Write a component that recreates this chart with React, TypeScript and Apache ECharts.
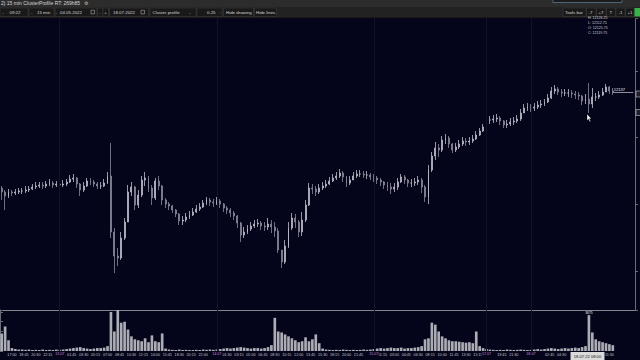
import React, { useEffect, useRef } from "react";
import * as echarts from "echarts";

// 30-minute OHLC bars, 12.07 14:15 -> 18.07 11:45 (CT)
const opens = [
  11849, 11837, 11825, 11837, 11834, 11837, 11840, 11840, 11843, 11846,
  11852, 11855, 11858, 11855, 11861, 11864, 11858, 11861, 11858, 11861,
  11867, 11876, 11879, 11861, 11843, 11855, 11870, 11867, 11861, 11855,
  11855, 11864, 11885, 11717, 11645, 11639, 11699, 11747, 11837, 11852,
  11798, 11828, 11873, 11879, 11849, 11819, 11870, 11855, 11813, 11801,
  11795, 11783, 11771, 11750, 11753, 11762, 11768, 11777, 11786, 11792,
  11804, 11813, 11807, 11804, 11810, 11801, 11789, 11783, 11774, 11765,
  11744, 11708, 11717, 11726, 11735, 11741, 11744, 11735, 11732, 11741,
  11732, 11720, 11663, 11627, 11675, 11729, 11759, 11747, 11717, 11753,
  11798, 11849, 11846, 11837, 11849, 11855, 11861, 11870, 11879, 11885,
  11894, 11882, 11864, 11873, 11885, 11891, 11891, 11888, 11888, 11882,
  11879, 11873, 11867, 11858, 11852, 11846, 11852, 11867, 11882, 11873,
  11864, 11864, 11867, 11873, 11852, 11822, 11903, 11945, 11969, 11963,
  11993, 11999, 11981, 11963, 11972, 11981, 11990, 11987, 11990, 11996,
  12008, 12020, 12032, 12053, 12053, 12056, 12059, 12050, 12038, 12041,
  12047, 12050, 12056, 12074, 12089, 12092, 12089, 12092, 12098, 12101,
  12107, 12119, 12140, 12146, 12137, 12134, 12134, 12134, 12131, 12128,
  12125, 12110, 12116, 12101, 12122, 12122, 12128, 12137, 12152, 12140,
];
const closes = [
  11837, 11825, 11837, 11834, 11837, 11840, 11840, 11843, 11846, 11852,
  11855, 11858, 11855, 11861, 11864, 11858, 11861, 11858, 11861, 11867,
  11876, 11879, 11861, 11843, 11855, 11870, 11867, 11861, 11855, 11855,
  11864, 11885, 11717, 11645, 11639, 11699, 11747, 11837, 11852, 11798,
  11828, 11873, 11879, 11849, 11819, 11870, 11855, 11813, 11801, 11795,
  11783, 11771, 11750, 11753, 11762, 11768, 11777, 11786, 11792, 11804,
  11813, 11807, 11804, 11810, 11801, 11789, 11783, 11774, 11765, 11744,
  11708, 11717, 11726, 11735, 11741, 11744, 11735, 11732, 11741, 11732,
  11720, 11663, 11627, 11675, 11729, 11759, 11747, 11717, 11753, 11798,
  11849, 11846, 11837, 11849, 11855, 11861, 11870, 11879, 11885, 11894,
  11882, 11864, 11873, 11885, 11891, 11891, 11888, 11888, 11882, 11879,
  11873, 11867, 11858, 11852, 11846, 11852, 11867, 11882, 11873, 11864,
  11864, 11867, 11873, 11852, 11822, 11903, 11945, 11969, 11963, 11993,
  11999, 11981, 11963, 11972, 11981, 11990, 11987, 11990, 11996, 12008,
  12020, 12032, 12053, 12053, 12056, 12059, 12050, 12038, 12041, 12047,
  12050, 12056, 12074, 12089, 12092, 12089, 12092, 12098, 12101, 12107,
  12119, 12140, 12146, 12137, 12134, 12134, 12134, 12131, 12128, 12125,
  12110, 12116, 12101, 12122, 12122, 12128, 12137, 12152, 12140, 12137,
];
const lows = [
  11813, 11783, 11819, 11825, 11828, 11831, 11831, 11834, 11837, 11843,
  11846, 11849, 11846, 11849, 11855, 11849, 11852, 11849, 11852, 11855,
  11864, 11867, 11849, 11825, 11837, 11852, 11858, 11852, 11846, 11846,
  11852, 11861, 11699, 11594, 11615, 11633, 11693, 11747, 11825, 11783,
  11789, 11822, 11855, 11837, 11798, 11813, 11843, 11798, 11789, 11783,
  11774, 11762, 11738, 11738, 11747, 11756, 11765, 11774, 11780, 11789,
  11798, 11795, 11792, 11798, 11789, 11777, 11771, 11762, 11753, 11729,
  11687, 11699, 11711, 11720, 11729, 11732, 11723, 11720, 11723, 11714,
  11702, 11654, 11609, 11621, 11669, 11723, 11729, 11702, 11705, 11747,
  11795, 11831, 11825, 11831, 11843, 11849, 11858, 11867, 11873, 11879,
  11867, 11852, 11858, 11873, 11879, 11882, 11879, 11876, 11873, 11867,
  11861, 11855, 11846, 11840, 11831, 11837, 11843, 11864, 11861, 11852,
  11852, 11855, 11858, 11834, 11807, 11801, 11897, 11933, 11942, 11957,
  11981, 11969, 11954, 11957, 11966, 11975, 11975, 11978, 11984, 11993,
  12005, 12017, 12026, 12041, 12044, 12047, 12038, 12029, 12029, 12035,
  12038, 12044, 12050, 12074, 12080, 12077, 12080, 12086, 12089, 12095,
  12104, 12116, 12131, 12128, 12122, 12125, 12122, 12119, 12116, 12113,
  12098, 12101, 12074, 12089, 12110, 12116, 12125, 12137, 12131, 12128,
];
const highs = [
  11855, 11843, 11846, 11843, 11846, 11849, 11849, 11855, 11855, 11861,
  11867, 11867, 11867, 11870, 11876, 11870, 11870, 11867, 11873, 11876,
  11888, 11891, 11882, 11864, 11867, 11879, 11879, 11873, 11867, 11867,
  11876, 11897, 11984, 11729, 11669, 11717, 11759, 11858, 11867, 11855,
  11843, 11885, 11897, 11885, 11858, 11879, 11885, 11858, 11819, 11807,
  11798, 11786, 11774, 11765, 11774, 11780, 11789, 11798, 11804, 11813,
  11822, 11819, 11816, 11822, 11816, 11804, 11795, 11789, 11780, 11768,
  11747, 11732, 11738, 11747, 11753, 11756, 11750, 11747, 11759, 11753,
  11747, 11729, 11663, 11693, 11747, 11774, 11771, 11753, 11777, 11813,
  11864, 11861, 11855, 11861, 11867, 11873, 11882, 11891, 11897, 11906,
  11900, 11885, 11885, 11897, 11903, 11903, 11900, 11900, 11894, 11891,
  11885, 11879, 11870, 11867, 11864, 11864, 11879, 11891, 11888, 11876,
  11876, 11879, 11885, 11879, 11858, 11918, 11957, 11987, 11981, 12005,
  12011, 12005, 11984, 11984, 11993, 12002, 11999, 12002, 12008, 12020,
  12029, 12041, 12068, 12065, 12068, 12071, 12065, 12053, 12053, 12059,
  12062, 12068, 12086, 12101, 12104, 12101, 12104, 12110, 12113, 12116,
  12131, 12152, 12158, 12152, 12146, 12146, 12146, 12143, 12140, 12137,
  12128, 12131, 12164, 12149, 12134, 12140, 12149, 12161, 12155, 12149,
];
const volumes = [
  1800, 2500, 1100, 300, 200, 150, 150, 120, 150, 100,
  120, 100, 150, 100, 120, 100, 150, 120, 150, 200,
  250, 300, 350, 400, 300, 250, 200, 250, 300, 300,
  350, 500, 4000, 2000, 4200, 2900, 3000, 2200, 1500, 1200,
  1100, 1000, 1300, 900, 1600, 1000, 900, 1800, 250, 150,
  120, 100, 150, 100, 120, 100, 100, 120, 100, 150,
  120, 150, 120, 150, 200, 250, 300, 250, 300, 350,
  400, 350, 300, 250, 300, 300, 250, 300, 400, 600,
  3400, 2000, 1900, 1700, 1500, 1300, 1100, 900, 1000, 1400,
  1000, 1200, 1700, 800, 250, 150, 120, 100, 120, 100,
  150, 120, 100, 120, 100, 120, 150, 120, 150, 200,
  250, 300, 250, 300, 350, 300, 300, 350, 250, 300,
  300, 350, 400, 500, 1200, 1300, 2900, 2700, 2000, 1500,
  1300, 1100, 1000, 1000, 950, 900, 850, 900, 800, 2000,
  500, 300, 200, 150, 120, 100, 120, 100, 150, 120,
  100, 120, 150, 120, 100, 120, 150, 200, 150, 200,
  250, 300, 250, 200, 250, 300, 250, 300, 350, 300,
  400, 500, 3675, 1900, 1200, 1000, 900, 800, 700, 600,
];
// time tick labels, one every 7 fifteen-minute bars ("" = hidden under a day / cursor label)
const timeTicks = [
  "14:15", "17:00", "18:45", "20:30", "22:15", "", "01:45", "03:30", "05:15", "07:00",
  "08:45", "10:30", "12:15", "14:00", "15:45", "18:30", "20:15", "22:00", "", "01:30",
  "03:15", "05:00", "06:45", "08:30", "10:15", "12:00", "13:45", "15:30", "18:15", "20:00",
  "21:45", "", "01:15", "03:00", "04:45", "06:30", "08:15", "10:00", "11:45", "13:30",
  "15:15", "", "19:45", "21:30", "", "", "02:45", "04:30", "", "",
  "", "11:30",
];
const dayLabels = ["13.07", "14.07", "15.07", "17.07", "18.07"];
const dayBars = [17, 63, 109, 142, 155];
const lastPrice = 12137;
const hoverBar = 172;
const hoverTime = "18.07.22 08:00";
const ohlcInfo = ["H: 12126.25", "L: 12112.75", "O: 12125.75", "C: 12119.75"];
const titleText = "2) 15 min ClusterProfile RT: 269h85";
const toolbarLeft: [number, string][] = [
  [2.5, "-"], [9.5, "09:22"], [31, "-"], [37, "15 min"], [55.5, "-"], [60, "04.05.2022"],
  [99, "-"], [104.3, "+"], [113, "18.07.2022"], [152.5, "Cluster profile"], [189, "-"],
  [207, "0.25"], [219.5, ":"], [226, "Hide drawing"], [256, "Hide lines"],
  [565, "Tools bar"], [588.5, "-7"], [598.5, "+7"], [609.5, "T"], [618.5, "-1"], [627.5, "+1"],
];
const toolbarBoxes: [number, number][] = [
  [0, 28], [29, 25], [55, 42], [97.5, 5.5], [103, 5.5], [109.5, 39], [150, 46], [197, 25],
  [223.5, 30], [254.5, 22], [563, 23], [586.5, 9.5], [596.5, 9.5], [606.5, 9], [616, 9], [625.5, 8.5],
];

const BAR_SLOTS = 186;
const TICK_SLOTS = 372;
const BG = "#04041a";
const FONT = '"Liberation Sans", Arial, sans-serif';

function txt(x: number, y: number, text: string, size: number, fill: string, align = "left") {
  return {
    type: "text", x, y, z: 40, silent: true,
    style: { text, fill, font: `${size}px ${FONT}`, align, verticalAlign: "middle", textAlign: align, textVerticalAlign: "middle" },
  };
}
function rect(x: number, y: number, w: number, h: number, fill: string, stroke?: string, z = 30) {
  return {
    type: "rect", z, silent: true, shape: { x, y, width: w, height: h },
    style: { fill, stroke: stroke || null, lineWidth: 0.6 },
  };
}

export default function App() {
  const ref = useRef<HTMLDivElement>(null);
  useEffect(() => {
    const chart = echarts.init(ref.current!, null, { renderer: "svg" });
    const cats = Array.from({ length: BAR_SLOTS }, (_, i) => String(i));
    const candles = closes.map((c, i) => [opens[i], c, lows[i], highs[i]]);
    const volData = volumes.map((v, i) =>
      i === hoverBar
        ? { value: v, label: { show: true, position: "top", distance: 1, formatter: "{c}", color: "#f2f2f2", fontSize: 3.4, fontFamily: FONT } }
        : v
    );
    const dayLine = { color: "#121229", width: 1, type: "solid" };

    const graphic: any[] = [
      rect(0, 0, 640, 7, "#2c2c2c"),
      rect(0, 7, 640, 11, "#222222"),
      rect(0, 17.5, 640, 0.8, "#101010"),
      rect(553, -3, 69, 5.5, "#1b1b1b", "#6f8fb0"),
      txt(1, 3.4, titleText, 5, "#d6d6d6"),
      txt(84, 3.4, "⚙", 4.5, "#bdbdbd"),
      ...toolbarBoxes.map(([x, w]) => rect(x, 8, w, 8.5, "#191919", "#3a3a3a")),
      ...toolbarLeft.map(([x, t]) => txt(x, 12.3, t, 4.4, "#d4d4d4")),
      rect(91, 10.3, 3.6, 3.6, "none", "#a8a8a8", 35),
      rect(141, 10.3, 3.6, 3.6, "none", "#a8a8a8", 35),
      rect(634.5, 8, 6, 8.5, "#37b449"),
      ...ohlcInfo.map((t, i) => txt(588, 17.5 + i * 5, t, 3.6, "#cfcfd6")),
      rect(636, 91, 5, 6, "#1e1e2e", "#c8c8c8"),
      rect(636, 109.5, 5, 6, "#1e1e2e", "#c8c8c8"),
      rect(570.5, 352, 34, 8, "#dadada", undefined, 50),
      { ...txt(587.5, 356, hoverTime, 4.1, "#151515", "center"), z: 55 },
      {
        type: "polygon", z: 60, silent: true,
        shape: { points: [[587, 114], [587, 120.6], [588.5, 119.2], [589.7, 121.7], [590.7, 121.2], [589.5, 118.7], [591.4, 118.7]] },
        style: { fill: "#ffffff", stroke: "#000000", lineWidth: 0.4 },
      },
    ];

    chart.setOption({
      animation: false,
      backgroundColor: BG,
      textStyle: { fontFamily: FONT },
      grid: [
        { left: 0, right: 5, top: 18, height: 292, containLabel: false, outerBoundsMode: "none" },
        { left: 0, right: 5, top: 310, bottom: 9, containLabel: false, outerBoundsMode: "none" },
      ],
      xAxis: [
        {
          type: "category", gridIndex: 0, data: cats, boundaryGap: true,
          axisLine: { show: true, lineStyle: { color: "#858590", width: 1 } },
          axisTick: { show: false }, axisLabel: { show: false }, splitLine: { show: false },
        },
        {
          type: "category", gridIndex: 1, data: cats, boundaryGap: true,
          axisLine: { show: false }, axisTick: { show: false }, axisLabel: { show: false }, splitLine: { show: false },
        },
        {
          type: "value", gridIndex: 1, min: 0, max: TICK_SLOTS, interval: 7, position: "bottom",
          axisLine: { show: false }, axisTick: { show: false }, splitLine: { show: false },
          axisLabel: {
            show: true, showMinLabel: false, showMaxLabel: false, margin: 1.5,
            fontSize: 3.7, color: "#c6c6cc", fontFamily: FONT,
            formatter: (v: number) => timeTicks[Math.round(v / 7)] ?? "",
          },
        },
      ],
      yAxis: [
        {
          type: "value", gridIndex: 0, min: 11483, max: 12359, position: "right", scale: true,
          axisLine: { show: true, lineStyle: { color: "#6c6c76" } },
          axisTick: { show: true, length: 3, lineStyle: { color: "#6c6c76" } },
          axisLabel: { show: false }, splitLine: { show: false },
        },
        {
          type: "value", gridIndex: 1, min: 0, max: 4200, position: "right",
          axisLine: { show: true, lineStyle: { color: "#6c6c76" } },
          axisTick: { show: true, length: 3, lineStyle: { color: "#6c6c76" } },
          axisLabel: { show: false }, splitLine: { show: false },
        },
      ],
      series: [
        {
          type: "candlestick", xAxisIndex: 0, yAxisIndex: 0, data: candles, barWidth: 1.4,
          silent: true,
          itemStyle: { color: "#a9a9b6", color0: "#767686", borderColor: "#bcbcc8", borderColor0: "#8a8a9a", borderWidth: 0.8 },
          markLine: {
            silent: true, symbol: ["none", "none"], animation: false,
            label: { show: false }, lineStyle: dayLine,
            data: [
              ...dayBars.map((b) => ({ xAxis: b })),
              [
                {
                  coord: [closes.length - 1, lastPrice],
                  lineStyle: { color: "#8e8e9e", width: 1, type: "solid" },
                  label: { show: true, position: "insideStartTop", distance: 1, formatter: String(lastPrice), color: "#ececf2", fontSize: 4, fontFamily: FONT },
                },
                { coord: [BAR_SLOTS - 1, lastPrice] },
              ],
            ],
          },
        },
        {
          type: "bar", xAxisIndex: 1, yAxisIndex: 1, data: volData, barWidth: "78%",
          silent: true,
          itemStyle: { color: "#acacb5" },
          markLine: {
            silent: true, symbol: ["none", "none"], animation: false, z: 10,
            lineStyle: dayLine,
            label: {
              show: true, position: "start", distance: 1, formatter: "{b}",
              color: "#d184d4", fontSize: 3.7, fontFamily: FONT, backgroundColor: BG, padding: [0, 0.3],
            },
            data: dayBars.map((b, k) => ({ xAxis: b, name: dayLabels[k] })),
          },
        },
      ],
      graphic,
    });
    return () => chart.dispose();
  }, []);
  return <div ref={ref} style={{ position: "fixed", left: 0, top: 0, width: 640, height: 360 }} />;
}
